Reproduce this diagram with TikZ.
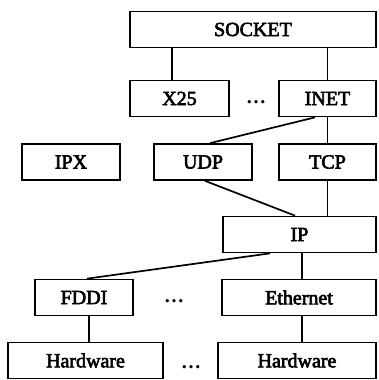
\documentclass[tikz,border=0pt]{standalone}
\usepackage{fontspec}
\setmainfont{Liberation Serif}
\newfontfamily\boxfont{Liberation Serif}[FakeBold=3]
\begin{document}
\begin{tikzpicture}[x=1pt,y=-1pt,
  box/.style={draw,line width=1.7pt,minimum height=36pt,inner sep=0pt,font=\boxfont\fontsize{20}{24}\selectfont},
  conn/.style={line width=1.7pt},
  dotsnode/.style={inner sep=0pt,font=\fontsize{20}{24}\selectfont\bfseries}]
\useasboundingbox (0,0) rectangle (378,380);
\node[box,minimum width=246pt] (socket) at (253,29.5) {SOCKET};
\node[box,minimum width=99pt] (x25) at (179.5,98.5) {X25};
\node[box,minimum width=97pt] (inet) at (327.5,98.5) {INET};
\node[box,minimum width=98pt] (ipx) at (71,162) {IPX};
\node[box,minimum width=98pt] (udp) at (203,162) {UDP};
\node[box,minimum width=97pt] (tcp) at (327.5,162) {TCP};
\node[box,minimum width=153pt] (ip) at (299.5,234.5) {IP};
\node[box,minimum width=98pt] (fddi) at (84,297.5) {FDDI};
\node[box,minimum width=154pt] (eth) at (299,297.5) {Ethernet};
\node[box,minimum width=155pt] (hwl) at (85.5,360.5) {Hardware};
\node[box,minimum width=158pt] (hwr) at (297,360.5) {Hardware};
\node[dotsnode] (d1) at (256,102) {\ldots};
\node[dotsnode] (d2) at (174,301) {\ldots};
\node[dotsnode] (d3) at (191,367) {\ldots};
% connectors
\draw[conn] ([xshift=-7.5pt]x25.north) -- ([xshift=-7.5pt]x25.north |- socket.south);
\draw[conn] (inet.north) -- (inet.north |- socket.south);
\draw[conn] ([xshift=-12.5pt]inet.south) -- ([xshift=7pt]udp.north);
\draw[conn] (inet.south) -- (tcp.north);
\draw[conn] ([xshift=2pt]udp.south) -- ([xshift=-4.5pt]ip.north);
\draw[conn] (tcp.south) -- (tcp.south |- ip.north);
\draw[conn] ([xshift=-29.5pt]ip.south) -- ([xshift=3pt]fddi.north);
\draw[conn] ([xshift=2.5pt]ip.south) -- ([xshift=2.5pt]ip.south |- eth.north);
\draw[conn] ([xshift=5pt]fddi.south) -- ([xshift=5pt]fddi.south |- hwl.north);
\draw[conn] ([xshift=3pt]eth.south) -- ([xshift=3pt]eth.south |- hwr.north);
\end{tikzpicture}
\end{document}
